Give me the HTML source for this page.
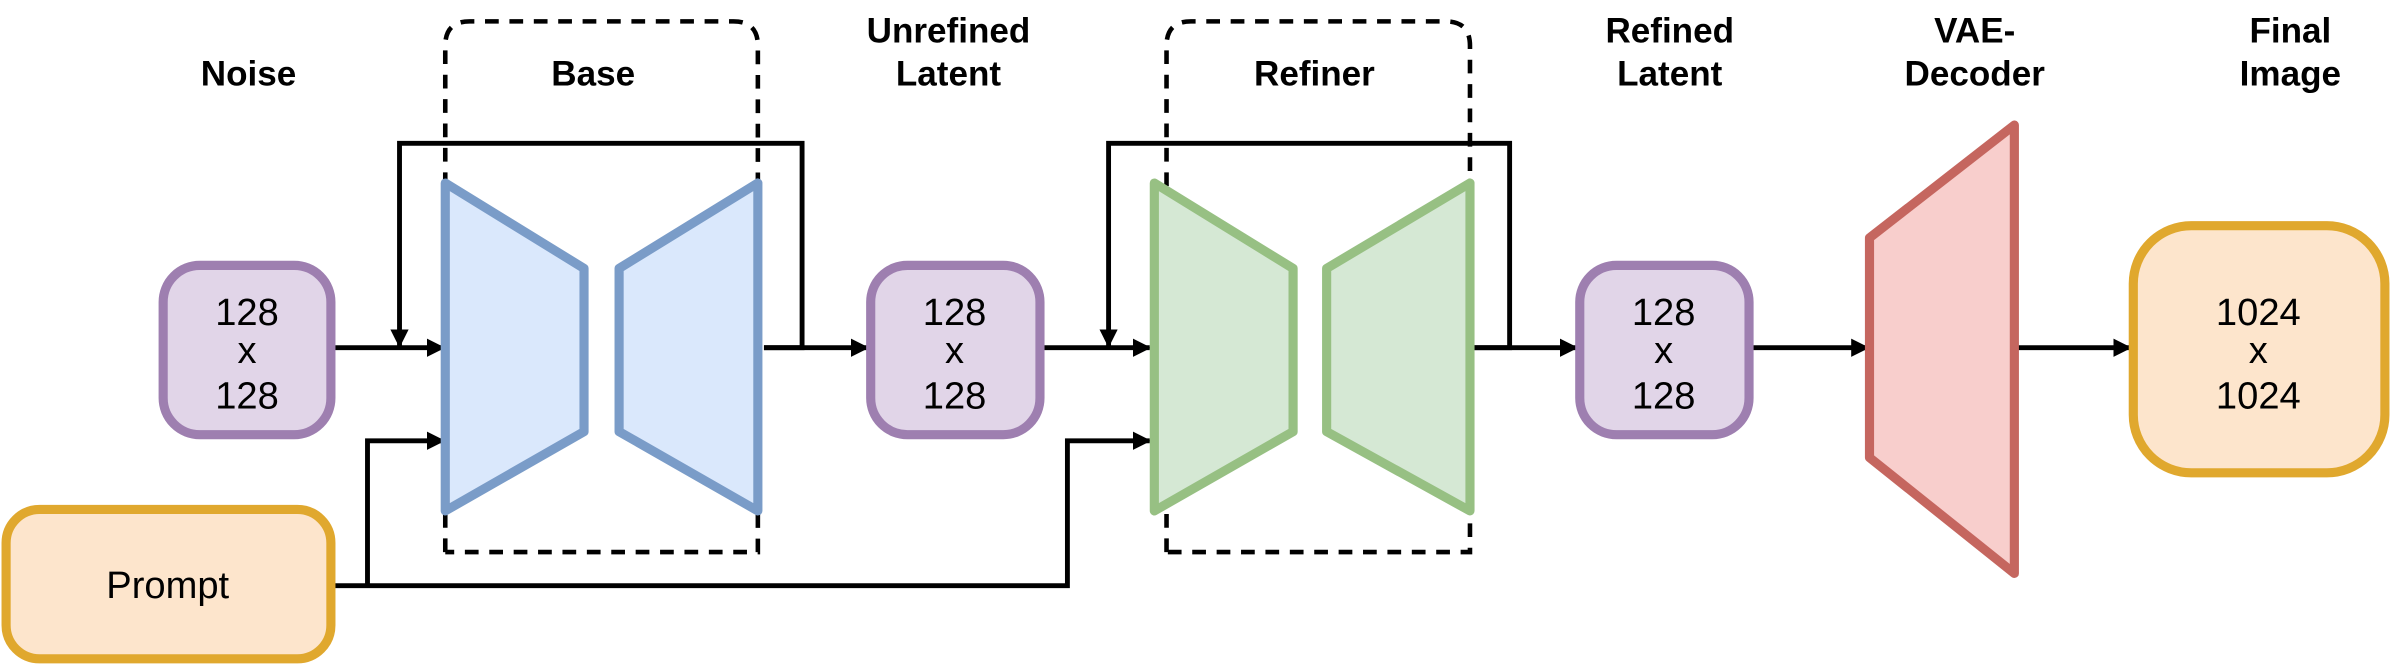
<!DOCTYPE html>
<html><head><meta charset="utf-8"><style>html,body{margin:0;padding:0;background:#fff}svg{display:block}</style></head><body>
<svg width="2391" height="668" viewBox="0 0 1568 438" preserveAspectRatio="none" xmlns="http://www.w3.org/2000/svg">
<defs><marker id="a" markerWidth="12" markerHeight="12" refX="11" refY="6" orient="auto" markerUnits="userSpaceOnUse"><path d="M0,0 L12,6 L0,12 z" fill="#000"/></marker></defs>
<g font-family="Liberation Sans, sans-serif" font-weight="bold" font-size="23" text-anchor="middle" fill="#000">
<text x="163" y="56">Noise</text>
<text x="389" y="56">Base</text>
<text x="622" y="28">Unrefined</text><text x="622" y="56">Latent</text>
<text x="862" y="56">Refiner</text>
<text x="1095" y="28">Refined</text><text x="1095" y="56">Latent</text>
<text x="1295" y="28">VAE-</text><text x="1295" y="56">Decoder</text>
<text x="1502" y="28">Final</text><text x="1502" y="56">Image</text>
</g>
<g fill="none" stroke="#000" stroke-width="3" stroke-dasharray="9,7">
<path d="M292,362 V30 Q292,14 308,14 H481 Q497,14 497,30 V362 H292"/>
<path d="M765,362 V30 Q765,14 781,14 H948 Q964,14 964,30 V362 H765"/>
</g>
<g stroke="#000" stroke-width="3.2" fill="none">
<line x1="218" y1="228" x2="291" y2="228" marker-end="url(#a)"/>
<path d="M501,228 H526 V94 H262 V227" marker-end="url(#a)"/>
<line x1="501" y1="228" x2="569" y2="228" marker-end="url(#a)"/>
<path d="M218,384 H700 V289 H754" marker-end="url(#a)"/>
<path d="M241,384 V289 H291" marker-end="url(#a)"/>
<line x1="683" y1="228" x2="754" y2="228" marker-end="url(#a)"/>
<path d="M966,228 H990 V94 H727 V227" marker-end="url(#a)"/>
<line x1="966" y1="228" x2="1034" y2="228" marker-end="url(#a)"/>
<line x1="1148" y1="228" x2="1225" y2="228" marker-end="url(#a)"/>
<line x1="1322" y1="228" x2="1397" y2="228" marker-end="url(#a)"/>
</g>
<g stroke-width="6" stroke-linejoin="round">
<polygon points="292,120 383,176 383,283 292,335" fill="#dae8fc" stroke="#7a9cc8"/>
<polygon points="406,176 497,120 497,335 406,283" fill="#dae8fc" stroke="#7a9cc8"/>
<polygon points="757,120 848,176 848,283 757,335" fill="#d5e8d4" stroke="#97c083"/>
<polygon points="870,176 964,120 964,335 870,283" fill="#d5e8d4" stroke="#97c083"/>
<polygon points="1226,156 1321,82 1321,376 1226,300" fill="#f8cecc" stroke="#c5665f"/>
<rect x="107" y="174" width="110" height="111" rx="24" fill="#e1d5e8" stroke="#9e7fb0"/>
<rect x="571" y="174" width="111" height="111" rx="24" fill="#e1d5e8" stroke="#9e7fb0"/>
<rect x="1036" y="174" width="111" height="111" rx="24" fill="#e1d5e8" stroke="#9e7fb0"/>
<rect x="4" y="334" width="213" height="98" rx="22" fill="#fde5cc" stroke="#e0a82e"/>
<rect x="1399" y="148" width="165" height="162" rx="38" fill="#fde5cc" stroke="#e0a82e"/>
</g>
<g font-family="Liberation Sans, sans-serif" font-size="25" text-anchor="middle" fill="#000">
<text x="162" y="213">128</text><text x="162" y="238">x</text><text x="162" y="268">128</text>
<text x="626" y="213">128</text><text x="626" y="238">x</text><text x="626" y="268">128</text>
<text x="1091" y="213">128</text><text x="1091" y="238">x</text><text x="1091" y="268">128</text>
<text x="1481" y="213">1024</text><text x="1481" y="238">x</text><text x="1481" y="268">1024</text>
<text x="110" y="392">Prompt</text>
</g>
</svg>
</body></html>
